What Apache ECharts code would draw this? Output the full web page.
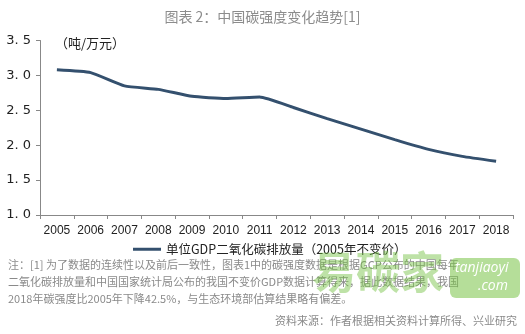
<!DOCTYPE html>
<html>
<head>
<meta charset="utf-8">
<script src="https://cdn.jsdelivr.net/npm/echarts@6/dist/echarts.min.js"></script>
<style>
  html, body { margin: 0; padding: 0; background: #fff; }
  #chart { width: 525px; height: 334px; }
</style>
</head>
<body>
<div id="chart"></div>
<script>
// 中国碳强度（吨/万元，2005年不变价）
const years = ['2005','2006','2007','2008','2009','2010','2011','2012','2013','2014','2015','2016','2017','2018'];
const intensity = [3.08, 3.04, 2.85, 2.80, 2.70, 2.67, 2.69, 2.54, 2.38, 2.23, 2.08, 1.94, 1.84, 1.77];
const yTicks = [1.0, 1.5, 2.0, 2.5, 3.0, 3.5];

const seriesName = '单位GDP二氧化碳排放量（2005年不变价）';
const titleText = '图表 2：中国碳强度变化趋势[1]';
const unitText = '（吨/万元）';
const noteLines = [
  '注：[1] 为了数据的连续性以及前后一致性，图表1中的碳强度数据是根据GCP公布的中国每年',
  '二氧化碳排放量和中国国家统计局公布的我国不变价GDP数据计算得来，据此数据结果，我国',
  '2018年碳强度比2005年下降42.5%，与生态环境部估算结果略有偏差。'
];
const sourceText = '资料来源：作者根据相关资料计算所得、兴业研究';

const cjk = '"Noto Sans CJK SC", "Noto Sans", sans-serif';
const chart = echarts.init(document.getElementById('chart'), null, { renderer: 'canvas' });

const graphics = [
  { type: 'text', left: 55, top: 37, style: { text: unitText, font: '13px ' + cjk, fill: '#222' } }
];
noteLines.forEach((t, i) => {
  graphics.push({ type: 'text', left: 8, top: 259 + i * 17, style: { text: t, font: '11px ' + cjk, fill: '#8a8a8a' } });
});
graphics.push({ type: 'text', right: 8, top: 315, style: { text: sourceText, font: '11px ' + cjk, fill: '#8a8a8a' } });
// 易碳家 标识
graphics.push({ type: 'text', left: 312, top: 250, z: 10, style: { text: '易碳家', font: 'bold 44px ' + cjk, fill: 'rgba(110,190,60,0.45)' } });
graphics.push({ type: 'rect', left: 450, top: 258, z: 10, shape: { width: 70, height: 40, r: 6 }, style: { fill: 'rgba(120,195,70,0.55)' } });
graphics.push({ type: 'text', left: 455, top: 261, z: 11, style: { text: 'tanjiaoyi', font: 'italic 14px "Open Sans", sans-serif', fill: '#fff' } });
graphics.push({ type: 'text', left: 478, top: 279, z: 11, style: { text: '.com', font: 'italic 14px "Open Sans", sans-serif', fill: '#fff' } });

chart.setOption({
  animation: false,
  backgroundColor: '#fff',
  title: {
    text: titleText,
    left: 'center',
    top: 5,
    textStyle: { fontFamily: cjk, fontSize: 14, fontWeight: 'normal', color: '#8c8c8c' }
  },
  grid: { left: 40, right: 12, top: 40.5, bottom: 119, containLabel: false },
  legend: {
    data: [seriesName],
    left: 128,
    top: 238,
    itemWidth: 28,
    itemHeight: 3,
    itemGap: 4,
    icon: 'rect',
    textStyle: { fontFamily: cjk, fontSize: 12.5, color: '#222' }
  },
  xAxis: {
    type: 'category',
    data: years,
    boundaryGap: true,
    axisLine: { lineStyle: { color: '#888', width: 1 } },
    axisTick: { show: true, alignWithLabel: false, interval: 0, length: 4, lineStyle: { color: '#888' } },
    axisLabel: { interval: 0, hideOverlap: false, fontFamily: '"Liberation Sans", Arial, sans-serif', fontSize: 12, color: '#222', margin: 10 }
  },
  yAxis: {
    type: 'value',
    min: yTicks[0],
    max: yTicks[yTicks.length - 1],
    interval: 0.5,
    axisLine: { show: true, lineStyle: { color: '#888', width: 1 } },
    axisTick: { show: true, length: 4, lineStyle: { color: '#888' } },
    splitLine: { show: false },
    axisLabel: {
      fontFamily: '"DejaVu Sans", sans-serif',
      fontSize: 13,
      color: '#222',
      margin: 9,
      formatter: v => v.toFixed(1).replace('.', '. ')
    }
  },
  series: [{
    name: seriesName,
    type: 'line',
    data: intensity,
    smooth: 0.15,
    symbol: 'none',
    lineStyle: { color: '#34506e', width: 3 },
    itemStyle: { color: '#34506e' }
  }],
  graphic: graphics
});
</script>
</body>
</html>
